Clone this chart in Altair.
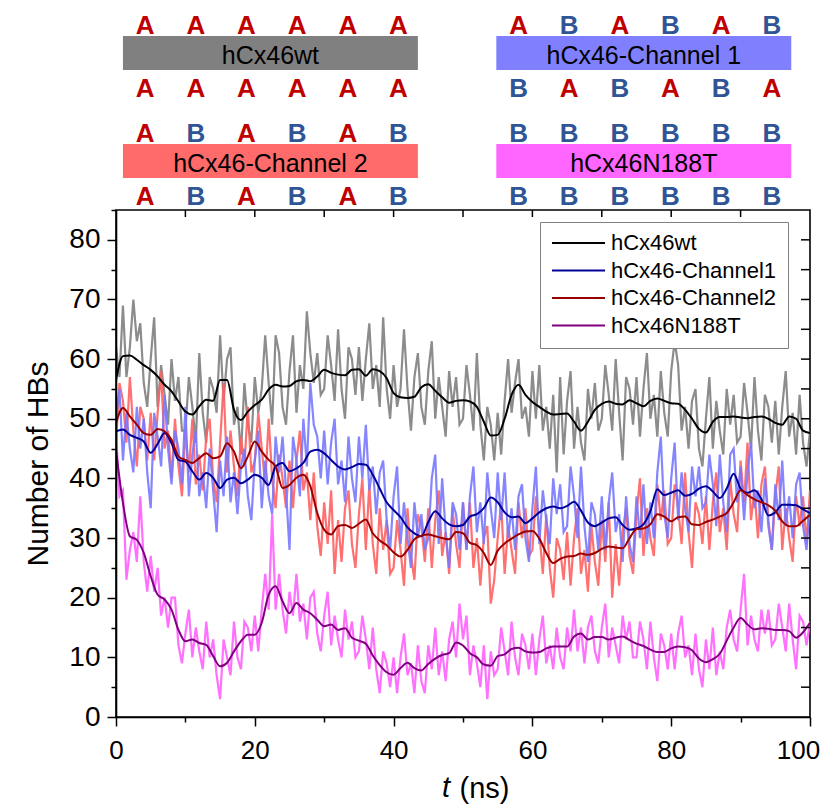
import altair as alt
import pandas as pd

# ---------------- schematic (top) ----------------
construct_names = ["hCx46wt", "hCx46-Channel 1", "hCx46-Channel 2", "hCx46N188T"]
construct_colors = ["#808080", "#8080FF", "#FF6A6A", "#FF66FF"]
top_subunits = ["AAAAAA", "ABABAB", "ABABAB", "BBBBBB"]
bottom_subunits = ["AAAAAA", "BABABA", "ABABAB", "BBBBBB"]
subunit_colors = {"A": "#C00000", "B": "#2F5597"}

# ---------------- time series ----------------
series_names = ["hCx46wt", "hCx46-Channel1", "hCx46-Channel2", "hCx46N188T"]
smooth_colors = ["#000000", "#000099", "#990000", "#800080"]
raw_colors = ["#808080", "#7878FF", "#FF6060", "#FF60FF"]

# smoothed curves, one value per ns (t = 0..100)
wt_smooth = [56.5, 60.5, 60.6, 59.9, 59.0, 58.2, 57.1, 55.7, 54.6, 52.9,
             51.2, 50.7, 52.1, 53.2, 53.0, 56.5, 56.5, 51.5, 49.8, 51.2,
             52.3, 53.2, 54.9, 55.7, 55.4, 55.5, 56.3, 56.5, 56.3, 57.1,
             58.2, 57.7, 57.4, 57.3, 58.2, 58.3, 57.2, 58.3, 58.0, 56.8,
             54.3, 53.6, 53.5, 53.7, 55.3, 55.8, 54.7, 53.6, 52.7, 53.0,
             53.1, 52.9, 52.0, 49.5, 47.2, 47.3, 50.0, 54.0, 55.7, 54.0,
             52.8, 52.0, 51.2, 50.7, 50.8, 50.9, 49.5, 48.0, 49.5, 51.5,
             52.5, 52.9, 52.5, 52.4, 53.1, 52.6, 52.1, 53.0, 53.4, 53.0,
             52.6, 52.5, 51.5, 50.0, 48.3, 47.7, 49.5, 50.3, 50.3, 50.4,
             50.2, 50.1, 50.3, 50.4, 50.0, 49.3, 49.0, 50.4, 50.0, 48.0,
             47.6]
ch1_smooth = [47.9, 48.2, 47.3, 46.8, 46.2, 44.3, 45.8, 47.6, 45.9, 43.1,
              42.8, 41.2, 39.8, 40.9, 40.1, 38.4, 39.8, 40.1, 39.2, 39.8,
              40.6, 40.1, 38.9, 42.0, 42.6, 41.2, 41.7, 42.6, 44.5, 44.8,
              44.2, 43.1, 42.0, 41.5, 41.9, 42.4, 42.3, 40.6, 38.3, 36.0,
              34.7, 33.5, 31.8, 30.8, 30.3, 32.7, 34.5, 33.3, 32.3, 32.0,
              32.2, 33.6, 34.0, 35.0, 36.8, 36.0, 34.3, 33.5, 33.6, 32.5,
              33.3, 34.3, 35.0, 35.3, 35.0, 35.4, 36.1, 34.6, 32.6, 32.0,
              32.6, 33.3, 33.5, 32.2, 31.4, 31.6, 32.3, 34.5, 38.2, 37.2,
              37.6, 38.0, 37.1, 37.4, 38.3, 38.7, 37.8, 36.7, 38.3, 40.8,
              38.3, 37.6, 38.0, 36.5, 33.8, 34.3, 35.6, 35.6, 35.5, 34.8,
              34.2]
ch2_smooth = [49.3, 51.8, 50.4, 49.0, 47.6, 47.3, 48.3, 47.9, 46.5, 43.7,
              43.1, 42.6, 43.4, 44.2, 43.4, 43.7, 45.9, 44.5, 41.7, 43.7,
              46.2, 44.5, 43.1, 42.0, 38.4, 38.9, 40.1, 40.6, 38.7, 34.2,
              31.4, 30.6, 32.0, 32.2, 31.7, 32.4, 33.1, 30.8, 29.6, 28.8,
              27.6, 26.9, 28.0, 29.8, 30.4, 30.6, 30.3, 30.0, 29.8, 31.0,
              30.8, 29.2, 28.8, 27.5, 25.5, 27.9, 29.1, 29.9, 30.6, 31.1,
              31.2, 29.9, 27.5, 25.8, 26.5, 26.9, 27.0, 27.4, 27.2, 27.5,
              28.2, 28.6, 28.4, 28.3, 30.0, 31.5, 31.6, 32.3, 34.0, 33.6,
              32.8, 33.5, 33.6, 32.3, 32.2, 32.7, 33.1, 33.6, 34.2, 36.0,
              38.0, 37.2, 36.5, 36.0, 35.5, 34.6, 32.8, 32.0, 32.0, 32.9,
              33.9]
n188t_smooth = [44.8, 35.9, 30.3, 29.7, 27.5, 23.6, 20.5, 19.7, 18.0, 14.6,
                12.7, 13.0, 12.4, 12.1, 10.2, 8.5, 9.1, 11.0, 12.7, 13.8,
                13.8, 15.8, 20.5, 21.9, 19.4, 17.4, 19.1, 18.0, 17.4, 16.3,
                15.2, 15.5, 14.6, 14.9, 13.3, 12.8, 12.3, 10.3, 8.7, 7.5,
                7.1, 8.2, 9.1, 8.2, 7.8, 8.9, 9.8, 10.4, 10.7, 12.5,
                12.0, 10.7, 10.0, 8.8, 8.6, 10.2, 10.5, 11.4, 11.6, 11.0,
                10.8, 10.9, 11.5, 11.8, 11.8, 11.8, 13.5, 14.0, 13.0, 13.4,
                13.4, 13.0, 13.3, 13.5, 12.9, 12.3, 11.9, 11.3, 10.9, 10.9,
                11.5, 11.8, 11.7, 11.2, 9.8, 9.2, 9.7, 10.6, 12.8, 15.0,
                16.6, 15.5, 14.7, 14.9, 14.8, 14.6, 14.6, 14.4, 13.3, 14.2,
                15.8]

# raw (noisy) traces, one value per 0.5 ns
wt_raw = [62, 57, 69, 57, 62, 70, 63, 66, 56, 52,
          60, 67, 52, 59, 54, 49, 60, 53, 57, 48,
          48, 57, 52, 46, 61, 51, 46, 57, 55, 51,
          64, 53, 60, 62, 49, 52, 44, 56, 49, 46,
          57, 51, 55, 64, 56, 49, 64, 61, 52, 49,
          58, 64, 51, 59, 55, 68, 61, 56, 61, 54,
          55, 64, 59, 53, 65, 55, 50, 62, 60, 54,
          62, 53, 60, 66, 55, 59, 52, 67, 55, 50,
          59, 52, 55, 65, 55, 48, 57, 61, 52, 49,
          58, 63, 50, 57, 52, 47, 58, 52, 57, 49,
          50, 59, 54, 48, 61, 49, 43, 52, 49, 43,
          51, 44, 53, 60, 51, 56, 60, 50, 52, 47,
          58, 50, 59, 48, 52, 45, 54, 41, 57, 44,
          53, 58, 45, 52, 46, 43, 55, 50, 56, 48,
          50, 59, 54, 48, 60, 51, 43, 57, 55, 49,
          57, 47, 55, 61, 50, 54, 47, 58, 51, 47,
          58, 63, 59, 48, 52, 45, 53, 55, 45, 42,
          50, 57, 45, 53, 48, 44, 55, 49, 54, 46,
          47, 56, 51, 45, 57, 48, 43, 54, 52, 46,
          53, 44, 52, 58, 47, 51, 44, 54, 46, 42,
          48]
ch1_raw = [50, 55, 43, 51, 45, 41, 52, 45, 50, 41,
           35, 51, 47, 42, 54, 45, 39, 48, 45, 39,
           52, 37, 44, 48, 37, 41, 35, 45, 38, 31,
           43, 37, 47, 36, 41, 34, 42, 45, 37, 33,
           43, 48, 35, 43, 37, 34, 47, 41, 47, 38,
           28, 47, 43, 37, 50, 42, 56, 49, 47, 40,
           48, 39, 46, 50, 39, 43, 36, 47, 40, 36,
           47, 40, 49, 38, 42, 34, 41, 43, 33, 28,
           37, 42, 29, 36, 30, 25, 36, 30, 34, 28,
           30, 40, 44, 29, 40, 31, 25, 36, 34, 28,
           36, 28, 37, 42, 31, 36, 29, 41, 35, 30,
           41, 33, 41, 30, 35, 28, 37, 39, 30, 26,
           35, 42, 29, 38, 33, 29, 40, 34, 39, 31,
           32, 42, 37, 30, 42, 32, 26, 36, 34, 28,
           37, 28, 36, 41, 31, 34, 26, 37, 29, 26,
           37, 30, 39, 29, 36, 30, 41, 47, 34, 30,
           40, 46, 33, 41, 35, 31, 42, 37, 42, 35,
           36, 44, 39, 32, 44, 36, 31, 44, 45, 36,
           42, 33, 41, 46, 35, 38, 31, 40, 32, 28,
           39, 33, 43, 32, 37, 30, 39, 41, 32, 28,
           36]
ch2_raw = [46, 56, 53, 46, 57, 48, 42, 52, 50, 43,
           51, 43, 51, 58, 45, 48, 40, 50, 42, 37,
           48, 41, 50, 39, 44, 38, 47, 50, 40, 36,
           46, 56, 41, 48, 42, 37, 47, 42, 52, 41,
           43, 51, 45, 39, 50, 40, 35, 44, 40, 35,
           43, 35, 43, 48, 38, 41, 33, 41, 32, 27,
           36, 29, 38, 24, 33, 26, 35, 38, 29, 25,
           34, 40, 28, 39, 29, 24, 35, 28, 33, 24,
           25, 33, 28, 22, 35, 27, 23, 34, 32, 26,
           35, 25, 33, 38, 27, 31, 24, 35, 29, 25,
           36, 28, 36, 25, 30, 22, 30, 32, 19, 23,
           30, 36, 24, 32, 28, 24, 36, 30, 35, 27,
           28, 37, 31, 24, 34, 25, 20, 30, 28, 23,
           31, 22, 30, 35, 24, 28, 21, 32, 26, 22,
           33, 26, 36, 20, 29, 22, 31, 35, 27, 24,
           34, 40, 27, 35, 30, 27, 39, 33, 38, 29,
           30, 39, 35, 29, 41, 31, 25, 36, 34, 29,
           37, 28, 36, 41, 31, 35, 28, 40, 34, 31,
           43, 36, 46, 33, 38, 30, 39, 42, 33, 28,
           37, 42, 28, 35, 30, 26, 37, 32, 37, 29,
           38]
n188t_raw = [48, 37, 38, 23, 28, 31, 26, 37, 26, 21,
             27, 21, 25, 17, 20, 15, 20, 20, 12, 9,
             14, 18, 10, 15, 11, 8, 16, 10, 13, 7,
             3, 13, 10, 7, 16, 10, 8, 16, 15, 11,
             17, 11, 18, 24, 18, 34, 18, 24, 18, 14,
             21, 17, 24, 16, 19, 13, 20, 21, 14, 11,
             17, 21, 12, 17, 13, 10, 18, 13, 16, 10,
             11, 17, 13, 8, 15, 8, 4, 11, 9, 5,
             10, 4, 10, 14, 7, 9, 4, 12, 6, 4,
             12, 8, 15, 7, 11, 6, 13, 16, 10, 19,
             13, 17, 7, 12, 9, 5, 12, 3, 11, 7,
             8, 15, 11, 7, 16, 10, 7, 14, 12, 8,
             14, 7, 13, 17, 9, 12, 8, 15, 10, 8,
             15, 11, 18, 11, 15, 9, 15, 17, 11, 9,
             15, 19, 10, 15, 12, 9, 17, 13, 16, 10,
             10, 16, 13, 8, 16, 10, 6, 14, 12, 8,
             14, 8, 14, 17, 10, 12, 7, 14, 8, 5,
             13, 8, 15, 7, 11, 8, 15, 18, 13, 11,
             18, 24, 12, 17, 13, 11, 18, 14, 18, 12,
             13, 19, 15, 11, 19, 13, 8, 17, 16, 12,
             16]

x_tick_values = [0, 10, 20, 30, 40, 50, 60, 70, 80, 90, 100]
y_tick_values = [0, 5, 10, 15, 20, 25, 30, 35, 40, 45, 50, 55, 60, 65, 70, 75, 80, 85]
top_tick_values = [10, 20, 30, 40, 50, 60, 70, 80, 90]
right_tick_values = [5, 10, 15, 20, 25, 30, 35, 40, 45, 50, 55, 60, 65, 70, 75, 80]
x_title_var = "t"
x_title_unit = "(ns)"
y_title = "Number of HBs"

SANS = "Liberation Sans, Arial, sans-serif"

W, H = 694, 507
SCH_H = 196

# ---------------- schematic chart ----------------
LETTER_X0, LETTER_DX, COL_DX, ROW_DY = 4.2, 7.3, 53.8, 108
letters, boxes = [], []
for k, name in enumerate(construct_names):
    col, row = k % 2, k // 2
    x0 = LETTER_X0 + col * COL_DX
    for j, (a, b) in enumerate(zip(top_subunits[k], bottom_subunits[k])):
        letters.append({"x": x0 + j * LETTER_DX, "y": 24.3 + row * ROW_DY,
                        "s": a, "c": subunit_colors[a]})
        letters.append({"x": x0 + j * LETTER_DX, "y": 87.0 + row * ROW_DY,
                        "s": b, "c": subunit_colors[b]})
    x1, x2 = x0 - 3.2, x0 + 5 * LETTER_DX + 2.8
    boxes.append({"x1": x1, "x2": x2, "y1": 26 + row * ROW_DY, "y2": 60 + row * ROW_DY,
                  "xm": (x1 + x2) / 2, "ym": 53.5 + row * ROW_DY,
                  "name": name, "fill": construct_colors[k]})
letters_df = pd.DataFrame(letters)
boxes_df = pd.DataFrame(boxes)

sx = alt.Scale(domain=[0, 100], nice=False, zero=False)
sy = alt.Scale(domain=[0, SCH_H], nice=False, zero=False, reverse=True)

sch_boxes = alt.Chart(boxes_df).mark_rect().encode(
    x=alt.X("x1:Q", scale=sx, axis=None), x2="x2:Q",
    y=alt.Y("y1:Q", scale=sy, axis=None), y2="y2:Q",
    color=alt.Color("fill:N", scale=None))
sch_labels = alt.Chart(boxes_df).mark_text(
    font=SANS, fontSize=25, color="black", baseline="alphabetic", align="center").encode(
    x=alt.X("xm:Q", scale=sx, axis=None), y=alt.Y("ym:Q", scale=sy, axis=None), text="name:N")
sch_letters = alt.Chart(letters_df).mark_text(
    font=SANS, fontSize=26, fontWeight="bold", baseline="alphabetic", align="center").encode(
    x=alt.X("x:Q", scale=sx, axis=None), y=alt.Y("y:Q", scale=sy, axis=None),
    text="s:N", color=alt.Color("c:N", scale=None))
schematic = alt.layer(sch_boxes, sch_labels, sch_letters).properties(
    width=W, height=SCH_H, view=alt.ViewBackground(stroke="transparent"))

# ---------------- main chart ----------------
xs = alt.Scale(domain=[0, 100], nice=False, zero=False)
ys = alt.Scale(domain=[0, 85], nice=False, zero=False)

x_axis = alt.Axis(
    values=x_tick_values, labelExpr="datum.value % 20 === 0 ? datum.label : ''",
    tickSize={"condition": {"test": "datum.value % 20 === 0", "value": 9}, "value": 5},
    labelOffset={"condition": {"test": "datum.value === 100", "value": -12}, "value": 0},
    tickColor="black", tickWidth=1.5, domainColor="black", domainWidth=1.6,
    labelFont=SANS, labelFontSize=26, labelColor="black", labelPadding=11,
    labelOverlap=False, labelFlush=False, grid=False, zindex=1,
    title=x_title_unit, titleFont=SANS, titleFontSize=29, titleFontWeight="normal",
    titleColor="black", titleX=343, titleY=80, titleAlign="left", titleBaseline="alphabetic")
y_axis = alt.Axis(
    values=y_tick_values, labelExpr="datum.value % 10 === 0 ? datum.label : ''",
    tickSize={"condition": {"test": "datum.value % 10 === 0", "value": 9}, "value": 5},
    tickColor="black", tickWidth=1.5, domainColor="black", domainWidth=1.6,
    labelFont=SANS, labelFontSize=28, labelColor="black", labelPadding=7,
    labelOverlap=False, grid=False, zindex=1,
    title=y_title, titleFont=SANS, titleFontSize=30, titleFontWeight="normal",
    titleColor="black", titlePadding=15)

X = alt.X("t:Q", scale=xs, axis=x_axis)
Y = alt.Y("v:Q", scale=ys, axis=y_axis)

raw_layers = []
for vals, colr in [(wt_raw, raw_colors[0]), (ch2_raw, raw_colors[2]),
                   (ch1_raw, raw_colors[1]), (n188t_raw, raw_colors[3])]:
    df = pd.DataFrame({"t": [0.5 * i for i in range(len(vals))], "v": vals})
    raw_layers.append(alt.Chart(df).mark_line(
        color=colr, strokeWidth=2.2, opacity=0.9, clip=True).encode(x=X, y=Y))

smooth_rows = []
for name, vals in zip(series_names, [wt_smooth, ch1_smooth, ch2_smooth, n188t_smooth]):
    for i, v in enumerate(vals):
        smooth_rows.append({"t": float(i), "v": v, "series": name})
smooth_df = pd.DataFrame(smooth_rows)

legend = alt.Legend(
    orient="none", legendX=424, legendY=212, title=None,
    symbolType="stroke", symbolSize=2809, symbolStrokeWidth=2,
    labelFont=SANS, labelFontSize=22, labelColor="black", labelLimit=400, labelOffset=5,
    clipHeight=20, rowPadding=5.5, padding=11,
    strokeColor="#808080", fillColor="white")

smooth_layer = alt.Chart(smooth_df).mark_line(
    strokeWidth=2, interpolate="monotone", clip=True).encode(
    x=X, y=Y,
    color=alt.Color("series:N", scale=alt.Scale(domain=series_names, range=smooth_colors),
                    legend=legend))

top_ticks = alt.Chart(pd.DataFrame({"t": top_tick_values})).mark_rule(
    color="black", strokeWidth=1.5).encode(x=X, y=alt.value(0), y2=alt.value(7))
right_ticks = alt.Chart(pd.DataFrame({"v": right_tick_values})).mark_rule(
    color="black", strokeWidth=1.5).encode(y=Y, x=alt.value(W - 9), x2=alt.value(W))

t_label = alt.Chart(pd.DataFrame({"s": [x_title_var]})).mark_text(
    font=SANS, fontSize=29, fontStyle="italic", align="right", baseline="alphabetic",
    color="black").encode(text="s:N", x=alt.value(334), y=alt.value(H + 80))

main = alt.layer(*raw_layers, smooth_layer, top_ticks, right_ticks, t_label).properties(
    width=W, height=H, view=alt.ViewBackground(stroke="black", strokeWidth=1.6))

chart = alt.vconcat(schematic, main, spacing=4, bounds="flush").properties(
    padding={"left": 15, "top": 1, "right": 0, "bottom": 0})

chart.save("out.html", embed_options={"renderer": "svg", "actions": False})
